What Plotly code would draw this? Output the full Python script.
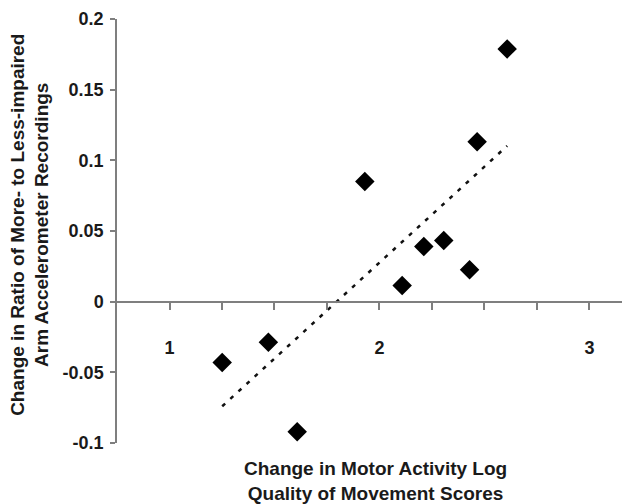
import numpy as np
import plotly.graph_objects as go

# Data
mal_change = [1.251, 1.471, 1.608, 1.930, 2.108, 2.211, 2.306, 2.429, 2.465, 2.608]
ratio_change = [-0.0431, -0.0288, -0.0920, 0.0851, 0.0114, 0.0390, 0.0433, 0.0225, 0.1131, 0.1788]

x_tickvals = [1, 1.25, 1.5, 1.75, 2, 2.25, 2.5, 2.75, 3]
x_ticktext = ["1", "", "", "", "2", "", "", "", "3"]
y_tickvals = [-0.1, -0.05, 0, 0.05, 0.1, 0.15, 0.2]
y_ticktext = ["-0.1", "-0.05", "0", "0.05", "0.1", "0.15", "0.2"]

x_title = "Change in Motor Activity Log<br>Quality of Movement Scores"
y_title = "Change in Ratio of More- to Less-impaired<br>Arm Accelerometer Recordings"

# Linear trendline (least squares) over the data range
slope, intercept = np.polyfit(mal_change, ratio_change, 1)
tx = np.array([min(mal_change), max(mal_change)])
ty = slope * tx + intercept

FONT = "Liberation Sans, Arial, sans-serif"
INK = "#1a1a1a"
AXIS = "#7f7f7f"

fig = go.Figure()
fig.add_trace(go.Scatter(
    x=tx, y=ty, mode="lines",
    line=dict(color="#111111", width=2.5, dash="4px,7px"),
    hoverinfo="skip", showlegend=False,
))
fig.add_trace(go.Scatter(
    x=mal_change, y=ratio_change, mode="markers",
    marker=dict(symbol="diamond", size=15, color="#000000"),
    showlegend=False,
))

fig.update_layout(
    width=622, height=496,
    margin=dict(l=109, r=0, t=11, b=61, autoexpand=False),
    paper_bgcolor="white", plot_bgcolor="white",
    font=dict(family=FONT, color=INK, size=17, weight="bold"),
    xaxis=dict(
        range=[0.75, 3.193], anchor="free", position=1/3,
        showline=True, linecolor=AXIS, linewidth=1.5,
        ticks="outside", ticklen=8, tickwidth=1.5, tickcolor=AXIS,
        tickvals=x_tickvals, ticktext=x_ticktext,
        ticklabelstandoff=22,
        showgrid=False, zeroline=False, automargin=False,
        tickfont=dict(family=FONT, size=18, color=INK, weight="bold"),
    ),
    yaxis=dict(
        range=[-0.1, 0.2],
        showline=True, linecolor=AXIS, linewidth=1.5,
        ticks="outside", ticklen=5, tickwidth=1.5, tickcolor=AXIS,
        tickvals=y_tickvals, ticktext=y_ticktext,
        ticklabelstandoff=3,
        showgrid=False, zeroline=False, automargin=False,
        tickfont=dict(family=FONT, size=18, color=INK, weight="bold"),
    ),
    annotations=[
        dict(text=x_title, xref="paper", yref="paper", x=0.504, y=-0.09,
             xanchor="center", yanchor="middle", showarrow=False,
             font=dict(family=FONT, size=19, color=INK, weight="bold")),
        dict(text=y_title, xref="paper", yref="paper", x=-0.170, y=0.514,
             xanchor="center", yanchor="middle", showarrow=False, textangle=-90,
             font=dict(family=FONT, size=19, color=INK, weight="bold")),
    ],
)

fig.write_html("out.html")
